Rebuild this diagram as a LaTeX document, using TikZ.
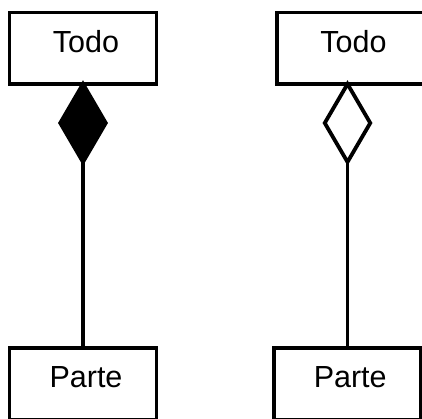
\documentclass[tikz,border=0pt]{standalone}
\usepackage{fontspec}
\setmainfont{Liberation Sans}
\usepackage{tikz}
\usetikzlibrary{arrows,shapes.geometric}
\tikzstyle{classbox}=[draw,rectangle,line width=3.8pt,inner sep=0pt,outer sep=0pt,minimum width=147pt,text height=39.5pt,text depth=32pt,font=\fontsize{30.5}{36}\selectfont]
\tikzstyle{compo}=[draw,diamond,fill=black,line width=3.8pt,inner sep=0pt,outer sep=0pt,minimum width=45.5pt,minimum height=78pt,anchor=north]
\tikzstyle{aggre}=[compo,fill=white]
\tikzstyle{edge} = [draw,line width=3.8pt,-]

\begin{document}
\begin{tikzpicture}[x=1pt,y=-1pt]
        \clip (0,0) rectangle (422,418);
        % composition (left)
        \node[classbox] (todoA) at (83,48.25) {\kern6pt Todo};
        \node[compo] (dA) at (83,84) {};
        \node[classbox] (parteA) at (83,384) {\kern6pt Parte};
        % aggregation (right)
        \node[classbox] (todoB) at (350.5,48.25) {\kern6pt Todo};
        \node[aggre] (dB) at (347.5,84) {};
        \node[classbox] (parteB) at (347.2,384) {\kern6pt Parte};
        \draw[edge] (dA.south) to (parteA.north);
        \draw[edge] (dB.south) to (dB.south |- parteB.north);
      \end{tikzpicture}
\end{document}
